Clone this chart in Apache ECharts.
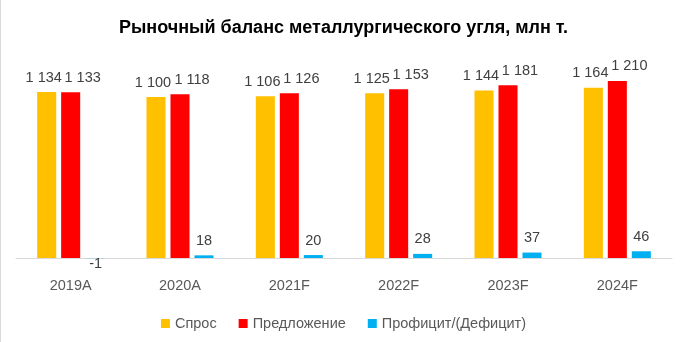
<!DOCTYPE html>
<html>
<head>
<meta charset="utf-8">
<script src="https://cdn.jsdelivr.net/npm/echarts@6/dist/echarts.min.js"></script>
<style>
html,body{margin:0;padding:0;background:#fff;}
#c{width:687px;height:342px;}
</style>
</head>
<body>
<div id="c"></div>
<script>
const categories = ['2019A', '2020A', '2021F', '2022F', '2023F', '2024F'];
const demand = [1134, 1100, 1106, 1125, 1144, 1164];
const supply = [1133, 1118, 1126, 1153, 1181, 1210];
const surplus = [-1, 18, 20, 28, 37, 46];
const seriesNames = ['Спрос', 'Предложение', 'Профицит/(Дефицит)'];
const titleText = 'Рыночный баланс металлургического угля, млн т.';

const FONT = '"Liberation Sans", Arial, sans-serif';
function fmt(p) {
  const v = p.value;
  const s = Math.abs(v).toString().replace(/\B(?=(\d{3})+(?!\d))/g, ' ');
  return (v < 0 ? '-' : '') + s;
}
const labelBase = {
  show: true, position: 'top', distance: 7, color: '#404040',
  fontFamily: FONT, fontSize: 14.5, formatter: fmt
};

const chart = echarts.init(document.getElementById('c'), null, {renderer: 'canvas'});
chart.setOption({
  animation: false,
  backgroundColor: '#ffffff',
  title: {
    text: titleText, left: 'center', top: 14,
    textStyle: {fontFamily: FONT, fontSize: 18, fontWeight: 'bold', color: '#000000'}
  },
  legend: {
    data: seriesNames, left: 'center', top: 311,
    icon: 'rect', itemWidth: 9, itemHeight: 9, itemGap: 22,
    textStyle: {fontFamily: FONT, fontSize: 14.5, color: '#595959'}
  },
  grid: {left: 16, right: 15, top: 53.1, bottom: 76.7, containLabel: false},
  xAxis: {
    type: 'category', data: categories,
    axisLine: {onZero: true, lineStyle: {color: '#D9D9D9', width: 1}},
    axisTick: {show: false},
    axisLabel: {color: '#595959', fontFamily: FONT, fontSize: 14.5, margin: 13}
  },
  yAxis: {
    type: 'value', min: -50, max: 1400, show: false,
    splitLine: {show: false}
  },
  series: [
    {
      name: seriesNames[0], type: 'bar', data: demand,
      itemStyle: {color: '#FFC000'},
      barGap: '26%', barCategoryGap: '38.7%',
      label: Object.assign({}, labelBase, {offset: [-3, 0]})
    },
    {
      name: seriesNames[1], type: 'bar', data: supply,
      itemStyle: {color: '#FF0000'},
      label: Object.assign({}, labelBase, {offset: [12, 0]})
    },
    {
      name: seriesNames[2], type: 'bar',
      data: surplus.map(v => v < 0 ? {value: v, label: {position: 'bottom', distance: 0, offset: [1, -2]}} : v),
      itemStyle: {color: '#00B0F0'},
      label: Object.assign({}, labelBase)
    }
  ],
  graphic: [{
    type: 'rect', left: 0, top: 0, shape: {x: 0, y: 0, width: 1, height: 342},
    style: {fill: '#D9D9D9'}, silent: true
  }]
});
</script>
</body>
</html>
